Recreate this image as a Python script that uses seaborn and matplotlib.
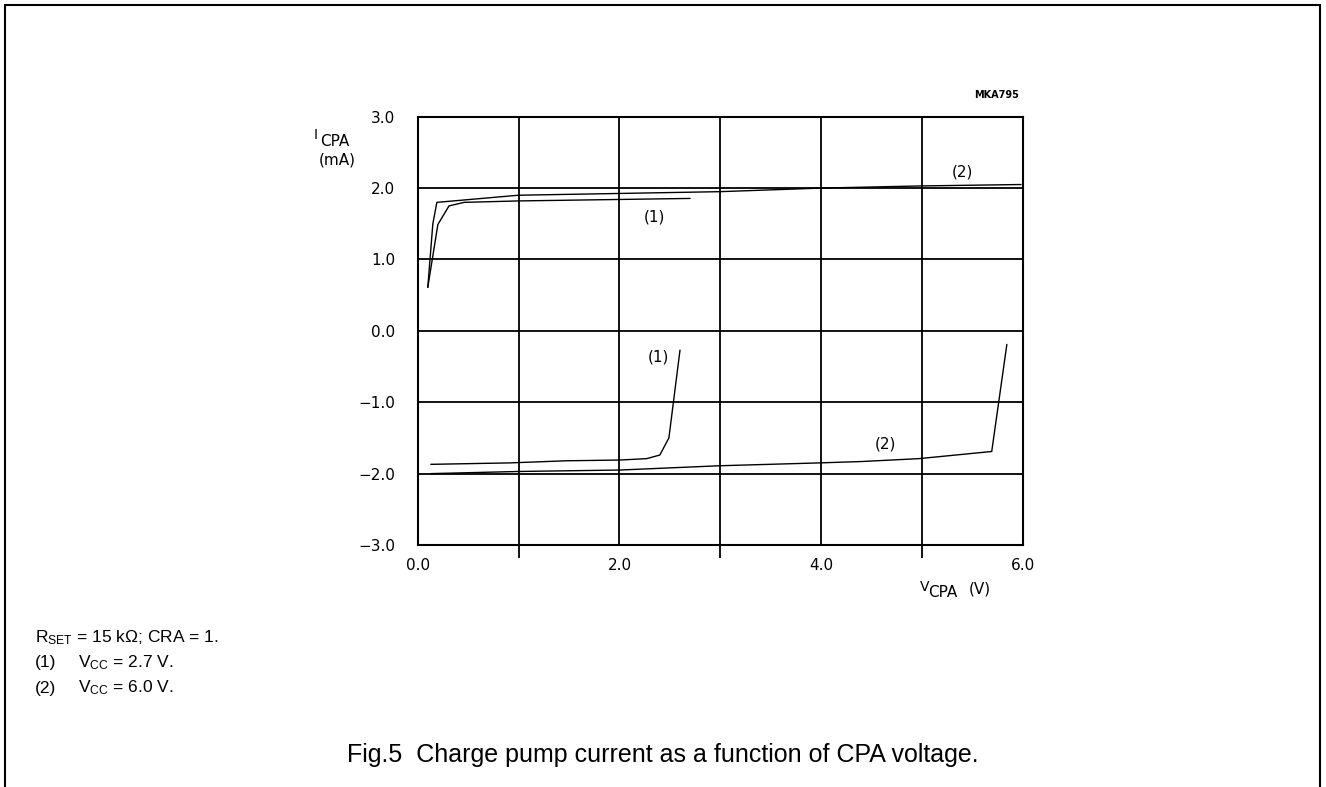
import matplotlib
matplotlib.use("Agg")
import matplotlib.pyplot as plt
import seaborn as sns
import pandas as pd
from matplotlib.ticker import FixedLocator, NullFormatter
from matplotlib.lines import Line2D

sns.set_theme(style="white")
plt.rcParams['font.family'] = ['DejaVu Sans']
plt.rcParams['mathtext.fontset'] = 'custom'
plt.rcParams['mathtext.rm'] = 'Liberation Sans'
plt.rcParams['mathtext.it'] = 'Liberation Sans:italic'
plt.rcParams['mathtext.bf'] = 'Liberation Sans:bold'

# ---- data ----
src1_v = [0.10, 0.20, 0.31, 0.46, 1.00, 2.70]
src1_i = [0.61, 1.49, 1.75, 1.80, 1.82, 1.855]

src2_v = [0.10, 0.15, 0.19, 1.00, 2.01, 3.00, 4.00, 4.99, 5.98]
src2_i = [0.61, 1.50, 1.80, 1.90, 1.925, 1.95, 2.00, 2.03, 2.05]

snk1_v = [0.13, 0.91, 1.48, 2.00, 2.27, 2.40, 2.49, 2.60]
snk1_i = [-1.87, -1.85, -1.82, -1.81, -1.79, -1.74, -1.50, -0.27]

snk2_v = [0.13, 1.00, 2.00, 2.99, 3.98, 4.41, 4.97, 5.69, 5.84]
snk2_i = [-2.00, -1.97, -1.95, -1.89, -1.85, -1.83, -1.79, -1.69, -0.19]

curve_labels = ["(1)", "(2)", "(1)", "(2)"]
label_v = [2.35, 5.40, 2.39, 4.64]
label_i = [1.60, 2.22, -0.36, -1.59]

x_major = [0, 2, 4, 6]
x_minor = [1, 3, 5]
y_major = [-3, -2, -1, 0, 1, 2, 3]
y_minor = [-2, -1, 0, 1, 2]

W, H = 1326, 787
fig = plt.figure(figsize=(W / 100, H / 100), dpi=100)
fig.patch.set_facecolor("white")

ax_l, ax_r, ax_t, ax_b = 417.7, 1023.0, 116.7, 545.0
ax = fig.add_axes([ax_l / W, 1 - ax_b / H, (ax_r - ax_l) / W, (ax_b - ax_t) / H])
ax.set_facecolor("white")

curves = [(src1_v, src1_i), (src2_v, src2_i), (snk1_v, snk1_i), (snk2_v, snk2_i)]
for v, i in curves:
    df = pd.DataFrame({"V": v, "I": i})
    sns.lineplot(data=df, x="V", y="I", ax=ax, color="black", lw=1.0,
                 sort=False, estimator=None)

for t, xv, yv in zip(curve_labels, label_v, label_i):
    ax.text(xv, yv, t, fontsize=11, ha="center", va="center", color="black")

ax.set_xlim(0, 6)
ax.set_ylim(-3, 3)
ax.set_xlabel("")
ax.set_ylabel("")

ax.xaxis.set_major_locator(FixedLocator(x_major))
ax.xaxis.set_minor_locator(FixedLocator(x_minor))
ax.xaxis.set_minor_formatter(NullFormatter())
ax.set_xticklabels([f"{v:.1f}" for v in x_major])
ax.yaxis.set_major_locator(FixedLocator(y_major))
ax.yaxis.set_minor_locator(FixedLocator(y_minor))
ax.yaxis.set_minor_formatter(NullFormatter())
ax.set_yticklabels([("\u2212" if v < 0 else "") + f"{abs(v):.1f}" for v in y_major])

ax.tick_params(axis="x", which="major", length=0, pad=9, labelsize=11, colors="black")
ax.tick_params(axis="x", which="minor", length=9, width=1.3, direction="out", bottom=True, color="black")
ax.tick_params(axis="y", which="major", length=0, pad=16, labelsize=11, colors="black")
ax.tick_params(axis="y", which="minor", length=9, width=1.3, direction="out", left=True, color="black")

ax.grid(True, which="both", axis="x", color="black", lw=1.3)
ax.grid(True, which="major", axis="y", color="black", lw=1.3)
for s in ax.spines.values():
    s.set_visible(True)
    s.set_color("black")
    s.set_linewidth(1.5)

def ftext(x, y, s, **kw):
    kw.setdefault("color", "black")
    fig.text(x / W, 1 - y / H, s, **kw)

# axis titles
ftext(314, 135, "I", fontsize=10, ha="left", va="center")
ftext(320, 142, "CPA", fontsize=11, ha="left", va="center")
ftext(356, 160, "(mA)", fontsize=11, ha="right", va="center")
ftext(920, 587, "V", fontsize=10, ha="left", va="center")
ftext(928, 592.5, "CPA", fontsize=11, ha="left", va="center")
ftext(969, 589, "(V)", fontsize=11, ha="left", va="center")
ftext(996.5, 94.5, "MKA795", fontsize=7, fontweight="bold", ha="center", va="center")

# notes
nf = ["Liberation Sans", "DejaVu Sans"]
ftext(35, 638, r"R$_{\mathrm{SET}}$ = 15 k$\Omega$; CRA = 1.", fontsize=12.5, family=nf,
      ha="left", va="center")
ftext(35, 663, "(1)", fontsize=12.5, family=nf, ha="left", va="center")
ftext(78, 663, r"V$_{\mathrm{CC}}$ = 2.7 V.", fontsize=12.5, family=nf, ha="left", va="center")
ftext(35, 688, "(2)", fontsize=12.5, family=nf, ha="left", va="center")
ftext(78, 688, r"V$_{\mathrm{CC}}$ = 6.0 V.", fontsize=12.5, family=nf, ha="left", va="center")
ftext(663, 755, "Fig.5  Charge pump current as a function of CPA voltage.",
      fontsize=18, family=nf, ha="center", va="center")

# page frame (left, top, right)
fr = dict(color="black", lw=1.5, transform=fig.transFigure)
fig.add_artist(Line2D([5 / W, 5 / W], [0, 1 - 5 / H], **fr))
fig.add_artist(Line2D([5 / W, 1320 / W], [1 - 5 / H, 1 - 5 / H], **fr))
fig.add_artist(Line2D([1320 / W, 1320 / W], [0, 1 - 5 / H], **fr))

fig.savefig("out.png", dpi=100, facecolor="white")
